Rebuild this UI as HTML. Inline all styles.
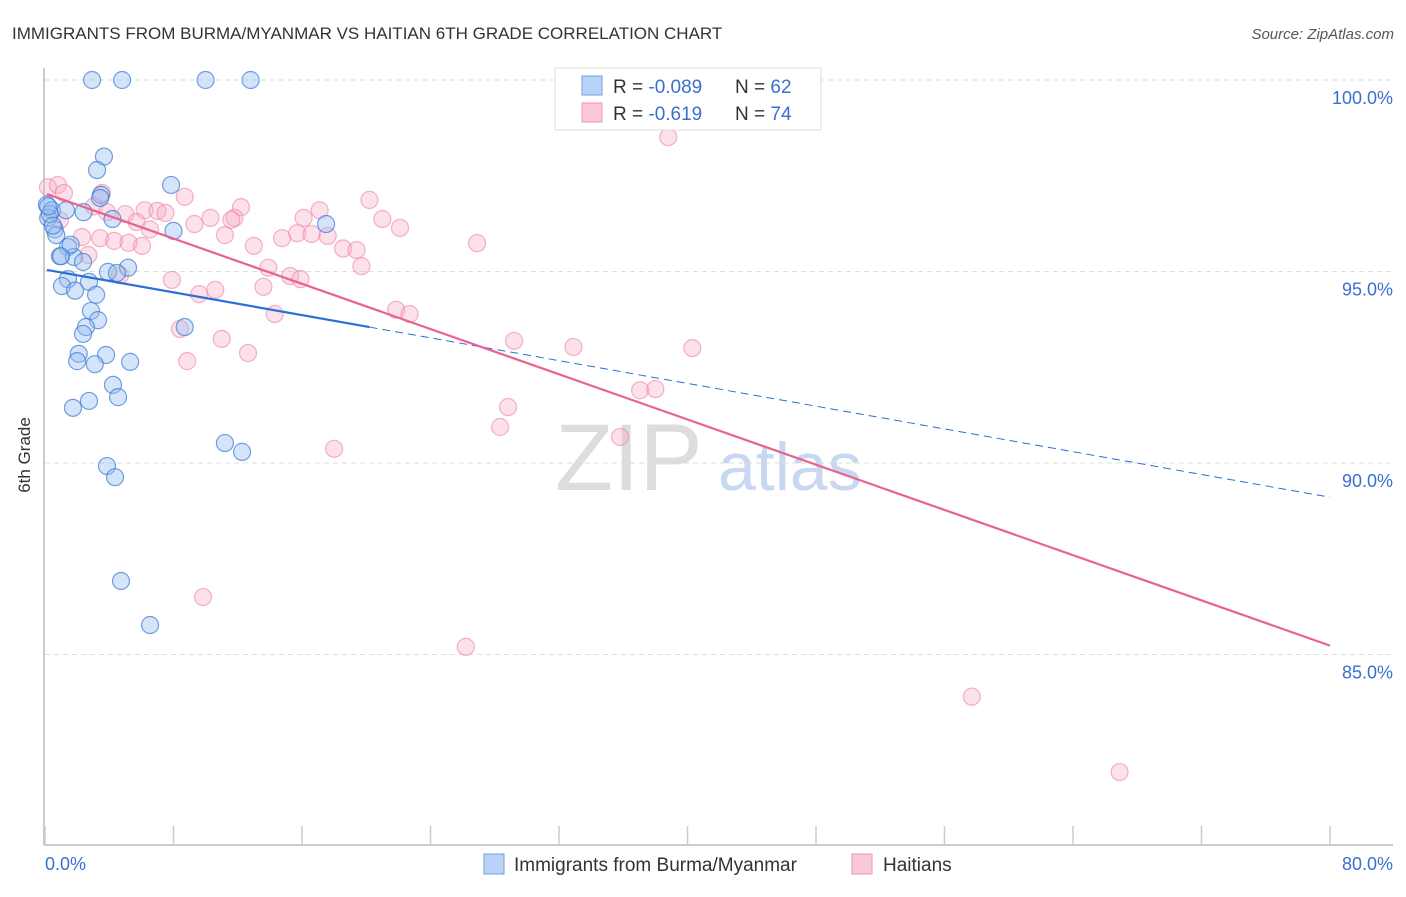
<!DOCTYPE html>
<html><head><meta charset="utf-8"><style>
body{margin:0;background:#fff;font-family:"Liberation Sans",sans-serif;}
svg text{font-family:"Liberation Sans",sans-serif;}
</style></head><body>
<svg id="chart" width="1406" height="892">
<text x="12" y="39" font-size="17" fill="#333">IMMIGRANTS FROM BURMA/MYANMAR VS HAITIAN 6TH GRADE CORRELATION CHART</text>
<text x="1394" y="39" font-size="15" fill="#555" font-style="italic" text-anchor="end">Source: ZipAtlas.com</text>
<text x="30" y="455" font-size="17" fill="#333" text-anchor="middle" transform="rotate(-90 30 455)">6th Grade</text>
<text x="555" y="490" font-size="95" fill="#ddd" font-family="Liberation Serif">ZIP</text>
<text x="718" y="490" font-size="68" fill="#c8d8f0">atlas</text>
<g id="grid"></g><g id="axes"></g><g id="pts"></g><g id="lines"></g>
<g>
<rect x="555" y="68" width="266" height="62" fill="#fff" stroke="#ddd"/>
<rect x="582" y="76" width="20" height="19" fill="#b8d3f5" stroke="#6fa0e0"/>
<rect x="582" y="103" width="20" height="19" fill="#fcc8d6" stroke="#f095b0"/>
<text x="613" y="93" font-size="19" fill="#333">R = <tspan fill="#3a6fd0">-0.089</tspan></text>
<text x="735" y="93" font-size="19" fill="#333">N = <tspan fill="#3a6fd0">62</tspan></text>
<text x="613" y="120" font-size="19" fill="#333">R =  <tspan fill="#3a6fd0">-0.619</tspan></text>
<text x="735" y="120" font-size="19" fill="#333">N = <tspan fill="#3a6fd0">74</tspan></text>
</g>
<g>
<rect x="484" y="854" width="20" height="20" fill="#b8d3f5" stroke="#6fa0e0"/>
<text x="514" y="871" font-size="19" fill="#333">Immigrants from Burma/Myanmar</text>
<rect x="852" y="854" width="20" height="20" fill="#fcc8d6" stroke="#f095b0"/>
<text x="883" y="871" font-size="19" fill="#333">Haitians</text>
</g>
</svg>
<script>
const yTicks=[100,95,90,85];
const yTickLabels=["100.0%","95.0%","90.0%","85.0%"];
const xTicks=[0,8,16,24,32,40,48,56,64,72,80];
const blueX=[2.93,4.8,10.0,12.8,3.67,3.24,7.85,3.49,3.43,0.12,0.44,1.3,2.4,4.2,0.2,0.6,0.7,8.0,17.5,1.43,0.93,1.8,2.37,5.17,3.92,4.48,1.43,1.06,2.74,1.87,3.18,2.86,3.3,2.55,2.37,8.7,2.1,3.8,2.0,3.1,5.3,4.23,4.55,2.74,1.74,11.2,12.27,3.86,4.36,4.73,6.54,0.3,0.5,1.0,0.2,1.6];
const blueY=[100,100,100,100,98.0,97.65,97.26,97.0,96.92,96.74,96.6,96.6,96.55,96.37,96.4,96.1,95.95,96.06,96.24,95.64,95.4,95.38,95.25,95.1,94.99,94.96,94.8,94.62,94.73,94.5,94.39,93.97,93.73,93.55,93.37,93.55,92.85,92.82,92.66,92.58,92.64,92.04,91.72,91.62,91.44,90.52,90.29,89.92,89.63,86.92,85.77,96.5,96.2,95.4,96.7,95.7];
const pinkX=[32.4,38.8,0.19,0.8,1.18,3.55,8.7,20.2,3.05,12.2,6.2,7.0,7.5,17.1,3.86,5.0,10.3,11.8,11.6,16.1,21.0,0.93,5.7,9.3,6.54,22.1,11.2,2.3,15.7,17.6,16.6,3.43,4.3,5.2,6.04,13.0,14.76,18.56,19.4,26.9,2.7,19.7,13.9,15.26,15.9,7.9,4.67,13.6,10.6,9.6,21.86,22.7,14.3,8.4,11.0,29.2,32.9,40.3,12.64,8.85,37.05,38.0,28.83,28.33,35.8,18.0,9.84,26.2,57.7,66.9];
const pinkY=[100,98.51,97.2,97.26,97.05,97.05,96.95,96.87,96.7,96.68,96.6,96.58,96.53,96.6,96.55,96.5,96.4,96.4,96.35,96.4,96.37,96.34,96.29,96.24,96.1,96.14,95.95,95.9,96.0,95.93,95.98,95.87,95.8,95.75,95.67,95.67,95.87,95.6,95.56,95.74,95.43,95.14,95.1,94.88,94.8,94.78,94.9,94.6,94.52,94.41,94.0,93.89,93.89,93.5,93.24,93.19,93.03,93.0,92.87,92.66,91.9,91.93,91.46,90.94,90.68,90.37,86.5,85.2,83.9,81.93];
const blueTrend=[95.05,-0.0743];
const pinkTrend=[97.04,-0.1476];
const X0=45,X1=1330,Y100=80,PXPCT=38.3;
const sx=v=>X0+(v/80)*(X1-X0);
const sy=v=>Y100+(100-v)*PXPCT;
const NS="http://www.w3.org/2000/svg";
function mk(t,a,p){const e=document.createElementNS(NS,t);for(const k in a)e.setAttribute(k,a[k]);p.appendChild(e);return e;}
const grid=document.getElementById('grid'),axes=document.getElementById('axes'),pts=document.getElementById('pts'),lines=document.getElementById('lines');
yTicks.forEach((t,i)=>{
 const l=mk('line',{x1:45,x2:1393,y1:sy(t),y2:sy(t),stroke:'#ddd','stroke-dasharray':'5,4'},grid);
 
 
 const tx=mk('text',{x:1393,y:sy(t)+24,'font-size':18,fill:'#3a6fd0','text-anchor':'end'},grid);
 tx.textContent=yTickLabels[i];
 
 
});
const ax=mk('line',{x1:44,x2:44,y1:68,y2:845,stroke:'#bbb','stroke-width':1.5},axes);


const bx=mk('line',{x1:44,x2:1393,y1:845,y2:845,stroke:'#bbb','stroke-width':1.5},axes);


xTicks.forEach(t=>{
 const l=mk('line',{x1:sx(t),x2:sx(t),y1:826,y2:845,stroke:'#ccc','stroke-width':1.5},axes);
 
 
});
const xl=mk('text',{x:45,y:870,'font-size':18,fill:'#3a6fd0'},axes);xl.textContent='0.0%';


const xr=mk('text',{x:1393,y:870,'font-size':18,fill:'#3a6fd0','text-anchor':'end'},axes);xr.textContent='80.0%';


pinkX.forEach((x,i)=>{
 const c=mk('circle',{cx:sx(x),cy:sy(pinkY[i]),r:8.5,fill:'rgba(248,170,195,0.35)',stroke:'rgba(235,130,165,0.6)','stroke-width':1.2},pts);
 
 
});
blueX.forEach((x,i)=>{
 const c=mk('circle',{cx:sx(x),cy:sy(blueY[i]),r:8.5,fill:'rgba(150,190,240,0.4)',stroke:'rgba(60,120,210,0.7)','stroke-width':1.2},pts);
 
 
});
const bt=x=>blueTrend[0]+blueTrend[1]*x, pt=x=>pinkTrend[0]+pinkTrend[1]*x;
const b1=mk('line',{x1:sx(0.12),y1:sy(bt(0.12)),x2:sx(20.2),y2:sy(bt(20.2)),stroke:'#2a6fd8','stroke-width':2.2},lines);


const b2=mk('line',{x1:sx(20.2),y1:sy(bt(20.2)),x2:sx(80),y2:sy(bt(80)),stroke:'#2a6fd8','stroke-width':1,'stroke-dasharray':'8,5'},lines);


const p1=mk('line',{x1:sx(0.12),y1:sy(pt(0.12)),x2:sx(80),y2:sy(pt(80)),stroke:'#e8638f','stroke-width':2.2},lines);


</script>
</body></html>
